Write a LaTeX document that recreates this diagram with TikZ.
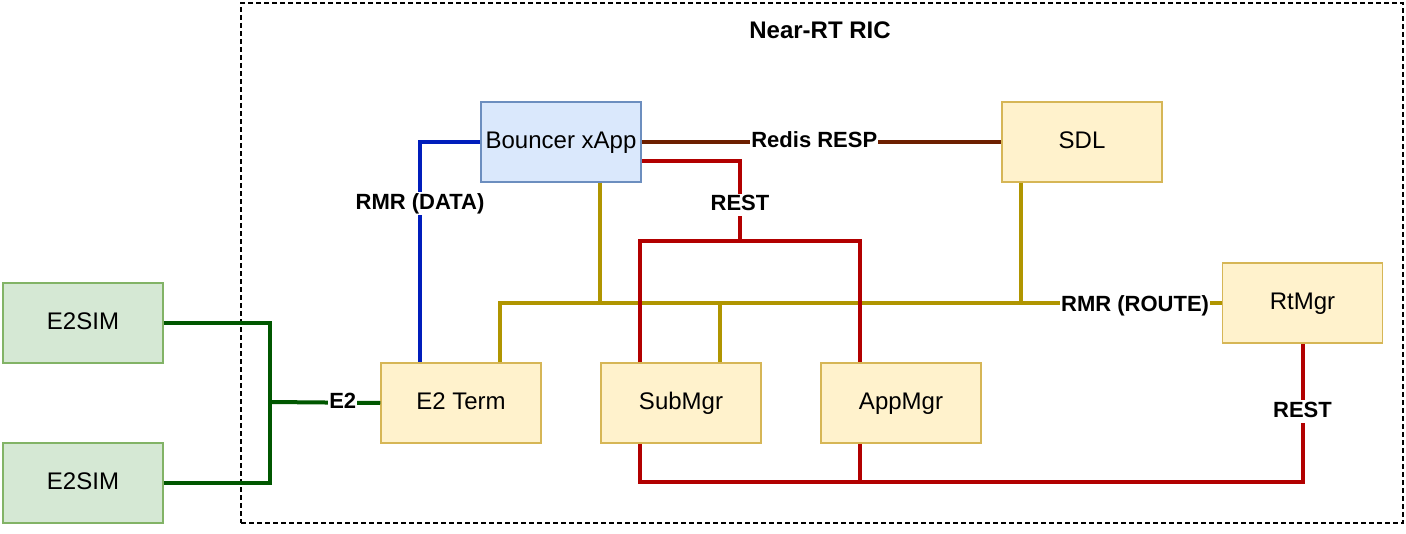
\documentclass[tikz,border=0pt]{standalone}
\usepackage{fontspec}
\setmainfont{Liberation Sans}
\definecolor{e2green}{HTML}{005700}
\definecolor{rmrblue}{HTML}{001DBC}
\definecolor{redisbrown}{HTML}{6D1F00}
\definecolor{restred}{HTML}{B20000}
\definecolor{routeolive}{HTML}{B09500}
\definecolor{xappfill}{HTML}{DAE8FC}
\definecolor{xappline}{HTML}{6C8EBF}
\definecolor{ricfill}{HTML}{FFF2CC}
\definecolor{ricline}{HTML}{D6B656}
\definecolor{simfill}{HTML}{D5E8D4}
\definecolor{simline}{HTML}{82B366}

\begin{document}
\begin{tikzpicture}[x=0.5pt, y=-0.5pt,
        box/.style={draw, line width=0.75pt, minimum width=80pt, minimum height=40pt, inner sep=0pt, text height=8.6pt, text depth=2.4pt, font=\fontsize{12}{14}\selectfont},
        xappbox/.style={box, fill=xappfill, draw=xappline},
        ricbox/.style={box, fill=ricfill, draw=ricline},
        simbox/.style={box, fill=simfill, draw=simline},
        link/.style={line width=2pt},
        lbl/.style={fill=white, inner sep=0.5pt, text height=8pt, text depth=2.3pt, text=black, font=\fontsize{11}{13}\selectfont\bfseries}]
    \useasboundingbox (0,0) rectangle (1406,534);
    \node[draw, line width=0.75pt, dash pattern=on 2.5pt off 1.5pt, minimum width=581pt, minimum height=260pt] (ric) at (822,263) {};
    \node[font=\fontsize{12}{14}\selectfont\bfseries] (title) at (820,30) {Near-RT RIC};

    \node[xappbox] (bouncer) at (561,142) {Bouncer xApp};
    \node[ricbox] (sdl) at (1082,142) {SDL};
    \node[ricbox] (rtmgr) at (1302.5,303) {RtMgr};
    \node[ricbox] (e2term) at (461,403) {E2 Term};
    \node[ricbox] (submgr) at (681,403) {SubMgr};
    \node[ricbox] (appmgr) at (901,403) {AppMgr};
    \node[simbox] (sim1) at (83,323) {E2SIM};
    \node[simbox] (sim2) at (83,483) {E2SIM};

    % E2
    \coordinate (e2join) at (270,402);
    \draw[link, e2green] (sim1.east) -| (e2join);
    \draw[link, e2green] (sim2.east) -| (e2join);
    \draw[link, e2green] (e2join) -- node[lbl, pos=0.66] {E2} (e2term.west);

    % RMR data
    \draw[link, rmrblue] (bouncer.west) -| node[lbl, pos=0.64] {RMR (DATA)} ([xshift=-20.5pt]e2term.north);

    % Redis
    \draw[link, redisbrown] (bouncer.east) -- node[lbl, pos=0.48] {Redis RESP} (sdl.west);

    % RMR route bus
    \coordinate (bouncerdrop) at ([xshift=19.5pt]bouncer.south);
    \coordinate (sdldrop) at ([xshift=-30.5pt]sdl.south);
    \coordinate (subdrop) at ([xshift=19.5pt]submgr.north);
    \draw[link, routeolive] (bouncerdrop) -- (bouncerdrop |- rtmgr.west);
    \draw[link, routeolive] (sdldrop) -- (sdldrop |- rtmgr.west);
    \draw[link, routeolive] (subdrop) -- (subdrop |- rtmgr.west);
    \draw[link, routeolive] ([xshift=19.5pt]e2term.north) |- node[lbl, pos=0.94, yshift=-1.5pt] {RMR (ROUTE)} (rtmgr.west);

    % REST
    \coordinate (resttop) at (740,241);
    \draw[link, restred] ([yshift=-9.5pt]bouncer.east) -| node[lbl, pos=0.775] {REST} (resttop);
    \draw[link, restred] ([xshift=-20.5pt]submgr.north) |- (resttop) -| ([xshift=-20.5pt]appmgr.north);
    \coordinate (restlow) at (860,482);
    \draw[link, restred] ([xshift=-20.5pt]appmgr.south) -- (restlow);
    \draw[link, restred] ([xshift=-20.5pt]submgr.south) |- (restlow) -| node[lbl, pos=0.755] {REST} (rtmgr.south);
\end{tikzpicture}
\end{document}
